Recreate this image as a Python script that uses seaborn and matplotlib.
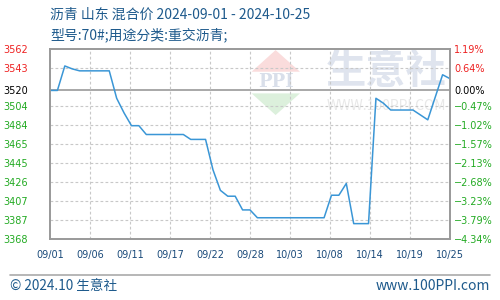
import matplotlib
matplotlib.use('Agg')
import matplotlib.pyplot as plt
import seaborn as sns
import pandas as pd
import numpy as np
from matplotlib.patches import Polygon

# ---------------- data ----------------
dates = pd.date_range('2024-09-01', '2024-10-25', freq='D')
prices = [
    3520, 3520, 3545, 3542, 3540, 3540, 3540, 3540, 3540, 3512,   # 09/01-09/10
    3497, 3484, 3484, 3475, 3475, 3475, 3475, 3475, 3475, 3470,   # 09/11-09/20
    3470, 3470, 3439, 3418, 3412, 3412, 3398, 3398, 3390, 3390,   # 09/21-09/30
    3390, 3390, 3390, 3390, 3390, 3390, 3390, 3390, 3413, 3413,   # 10/01-10/10
    3425, 3384, 3384, 3384, 3512, 3507, 3500, 3500, 3500, 3500,   # 10/11-10/20
    3495, 3490, 3513, 3536, 3532,                                 # 10/21-10/25
]
base_price = 3520
y_tick_labels = ['3562', '3543', '3520', '3504', '3484', '3465', '3445',
                 '3426', '3407', '3387', '3368']
pct_tick_labels = ['1.19%', '0.64%', '0.00%', '−0.47%', '−1.02%', '−1.57%',
                   '−2.13%', '−2.68%', '−3.23%', '−3.79%', '−4.34%']
x_tick_labels = ['09/01', '09/06', '09/11', '09/17', '09/22', '09/28',
                 '10/03', '10/08', '10/14', '10/19', '10/25']
title1 = '沥青 山东 混合价 2024-09-01 - 2024-10-25'
title2 = '型号:70#;用途分类:重交沥青;'
footer_left = '© 2024.10 生意社'
footer_right = 'www.100PPI.com'

df = pd.DataFrame({'date': dates, 'price': prices})

# ---------------- style ----------------
sns.set_style('white')
plt.rcParams['font.family'] = ['Noto Sans CJK SC', 'DejaVu Sans']

fig = plt.figure(figsize=(5, 3), dpi=100)
W, H = 500, 300
L, R, T, B = 50, 450, 49.3, 239.3
ax = fig.add_axes([L / W, 1 - B / H, (R - L) / W, (B - T) / H])
ax.set_facecolor('none')

ymin, ymax = 3368, 3562
xmin, xmax = pd.Timestamp('2024-09-01'), pd.Timestamp('2024-10-25')

# watermark
wm_kw = dict(transform=ax.transAxes, zorder=0)
ax.add_patch(Polygon([[0.564, 0.996], [0.504, 0.882], [0.625, 0.882]],
                     closed=True, fc='#fadcdc', ec='none', **wm_kw))
ax.add_patch(Polygon([[0.504, 0.768], [0.625, 0.768], [0.564, 0.654]],
                     closed=True, fc='#dcf0dc', ec='none', **wm_kw))
ax.text(0.564, 0.826, 'PPI', fontsize=13, fontweight='bold', family='DejaVu Serif',
        color='#d9dfea', ha='center', va='center', **wm_kw)
ax.text(0.84, 0.885, '生意社', fontsize=29, fontweight='bold', color='#dfe4ee',
        ha='center', va='center', **wm_kw)
ax.text(0.84, 0.70, 'WWW.100PPI.COM', fontsize=10, color='#e8e8e8',
        ha='center', va='center', **wm_kw)

# grid
ytick_pos = list(np.linspace(ymax, ymin, 11))
ytick_pos[2] = base_price
for i, yv in enumerate(ytick_pos):
    if i in (0, len(ytick_pos) - 1):
        continue
    if i == 2:
        ax.axhline(yv, color='#999999', lw=1.2, zorder=1)
    else:
        ax.axhline(yv, color='#c8c8c8', lw=0.8, ls=(0, (2.5, 2)), zorder=1)

xtick_pos = pd.to_datetime(np.linspace(xmin.value, xmax.value, len(x_tick_labels)))
for xv in xtick_pos[1:-1]:
    ax.axvline(xv, color='#c8c8c8', lw=0.8, ls=(0, (2.5, 2)), zorder=1)

sns.lineplot(data=df, x='date', y='price', ax=ax, color='#3a96d6', lw=1.1, zorder=3)

ax.set_xlim(xmin, xmax)
ax.set_ylim(ymin, ymax)
ax.set_xlabel('')
ax.set_ylabel('')

ax.set_xticks(xtick_pos)
ax.set_xticklabels(x_tick_labels, fontsize=7, color='#1a4a7a', family='DejaVu Sans')
ax.set_yticks(ytick_pos)
ax.set_yticklabels(y_tick_labels, fontsize=7, family='DejaVu Sans')
ax.tick_params(axis='x', length=0, pad=8)
ax.tick_params(axis='y', length=0, pad=16)


def lab_color(i):
    if i < 2:
        return '#ee2222'
    if i == 2:
        return '#000000'
    return '#22aa22'


for i, t in enumerate(ax.get_yticklabels()):
    t.set_color(lab_color(i))

ax2 = ax.twinx()
ax2.set_ylim(ymin, ymax)
ax2.set_yticks(ytick_pos)
ax2.set_yticklabels(pct_tick_labels, fontsize=7, family='DejaVu Sans')
ax2.tick_params(axis='y', length=0, pad=3)
for i, t in enumerate(ax2.get_yticklabels()):
    t.set_color(lab_color(i))

for a in (ax, ax2):
    for s in a.spines.values():
        s.set_color('#999999')
        s.set_linewidth(1.2)

# titles
fig.text(50 / W, 1 - 15 / H, title1, fontsize=10, color='#1e5a8c', ha='left', va='center')
fig.text(50 / W, 1 - 35 / H, title2, fontsize=10, color='#1e5a8c', ha='left', va='center')

# footer
fig.add_artist(plt.Line2D([10 / W, 490 / W], [1 - 275 / H, 1 - 275 / H],
                          color='#aaaaaa', lw=1.2, transform=fig.transFigure))
fig.text(10 / W, 1 - 286 / H, footer_left, fontsize=9.8, color='#1e5a8c', ha='left', va='center')
fig.text(490 / W, 1 - 286 / H, footer_right, fontsize=10, color='#1e5a8c', ha='right', va='center')

fig.savefig('out.png', dpi=100)
